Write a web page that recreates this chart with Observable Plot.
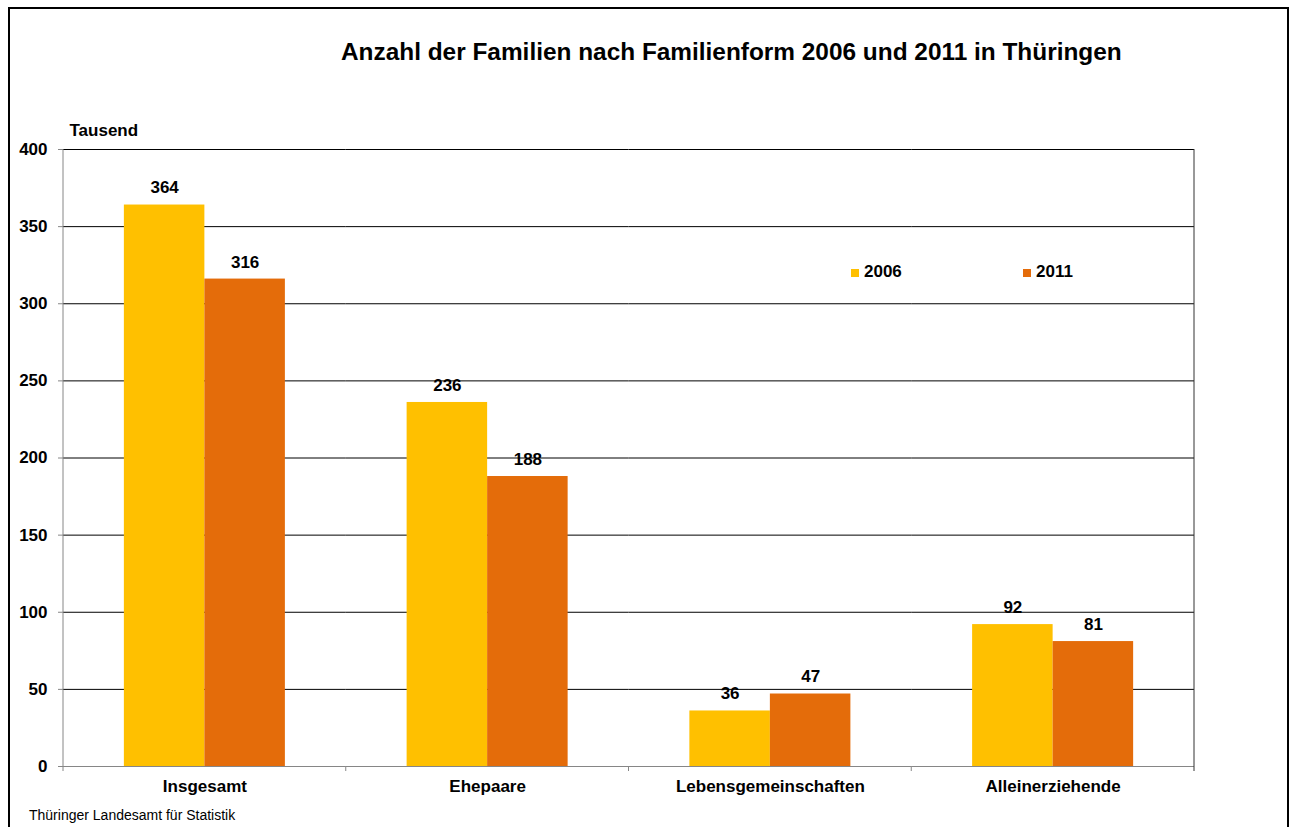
<!DOCTYPE html>
<html><head><meta charset="utf-8">
<script src="https://cdn.jsdelivr.net/npm/d3@7"></script>
<script src="https://cdn.jsdelivr.net/npm/@observablehq/plot@0.6"></script>
<style>
body{margin:0;background:#fff;font-family:"Liberation Sans",Arial,sans-serif;}
#page{position:relative;width:1294px;height:827px;overflow:hidden;background:#fff;}
#frame{position:absolute;left:8px;top:7px;width:1281px;height:860px;border:2px solid #000;box-sizing:border-box;pointer-events:none;}
#title{position:absolute;top:38px;left:341px;font-weight:bold;font-size:24.4px;line-height:28px;white-space:nowrap;color:#000;}
#chart{position:absolute;top:100px;left:0;}
#legend{position:absolute;top:262px;left:0;width:1294px;height:20px;font-weight:bold;font-size:17px;}
#legend .item{position:absolute;top:0;height:20px;line-height:20px;white-space:nowrap;}
#legend .sw{display:inline-block;width:8px;height:8px;margin-right:5px;vertical-align:0px;}
#footer{position:absolute;top:806px;left:29px;font-size:14px;line-height:18px;color:#000;white-space:nowrap;}
svg [aria-label^="y-axis"] path, svg [aria-label^="y-axis"] line{stroke:#868686;}
</style>
</head><body>
<div id="page">
  <div id="title"></div>
  <div id="chart"></div>
  <div id="legend"></div>
  <div id="footer"></div>
  <div id="frame"></div>
</div>
<script>
const title = "Anzahl der Familien nach Familienform 2006 und 2011 in Thüringen";
const yLabel = "Tausend";
const source = "Thüringer Landesamt für Statistik";
const categories = ["Insgesamt", "Ehepaare", "Lebensgemeinschaften", "Alleinerziehende"];
const years = ["2006", "2011"];
const values2006 = [364, 236, 36, 92];
const values2011 = [316, 188, 47, 81];
const yTicks = [0, 50, 100, 150, 200, 250, 300, 350, 400];
const colors = ["#FFC000", "#E46C0A"];
const legendLeft = [851, 1023];

const data = categories.flatMap((c, i) => [
  {cat: c, year: years[0], value: values2006[i]},
  {cat: c, year: years[1], value: values2011[i]}
]);

document.getElementById("title").textContent = title;
document.getElementById("footer").textContent = source;
const legend = document.getElementById("legend");
years.forEach((yr, i) => {
  const it = document.createElement("div");
  it.className = "item";
  it.style.left = legendLeft[i] + "px";
  it.innerHTML = `<span class="sw" style="background:${colors[i]}"></span>${yr}`;
  legend.appendChild(it);
});

const plot = Plot.plot({
  width: 1294, height: 700,
  marginLeft: 63, marginRight: 100, marginTop: 49, marginBottom: 34,
  style: {fontFamily: '"Liberation Sans", Arial, sans-serif', fontSize: "17px", fontWeight: "bold", color: "#000", background: "transparent", overflow: "visible"},
  fx: {domain: categories, padding: 0, round: false, label: null, axis: "bottom", tickSize: 0, tickPadding: 13},
  x: {domain: years, axis: null, round: false, paddingInner: 0, paddingOuter: 0.756},
  y: {domain: [0, 400], ticks: yTicks, tickSize: 5, tickPadding: 11, label: null},
  color: {domain: years, range: colors},
  marks: [
    Plot.ruleY(yTicks.filter(d => d > 0), {stroke: "#000", strokeWidth: 1}),
    Plot.barY(data, {fx: "cat", x: "year", y: "value", fill: "year"}),
    Plot.text(data, {fx: "cat", x: "year", y: "value", text: d => String(d.value), dy: -17, fill: "#000"}),
    Plot.ruleY([0], {stroke: "#868686"}),
    Plot.text([yLabel], {fx: () => categories[0], frameAnchor: "top-left", textAnchor: "start", dx: 6, dy: -26, fill: "#000"})
  ]
});
document.getElementById("chart").appendChild(plot);

// frame lines & category boundary ticks via the plot's scales
const fx = plot.scale("fx"), y = plot.scale("y");
const svg = d3.select(plot);
const y0 = y.apply(0), yTop = y.apply(400);
const lefts = categories.map(c => fx.apply(c));
const xStart = lefts[0], xEnd = lefts[lefts.length - 1] + fx.bandwidth;
const g = svg.append("g");
g.append("line").attr("x1", xStart).attr("x2", xStart).attr("y1", yTop).attr("y2", y0 + 5).attr("stroke", "#868686");
g.append("line").attr("x1", xEnd).attr("x2", xEnd).attr("y1", yTop).attr("y2", y0 + 5).attr("stroke", "#333");
lefts.slice(1).forEach(x => g.append("line").attr("x1", x).attr("x2", x).attr("y1", y0).attr("y2", y0 + 5).attr("stroke", "#868686"));
</script>
</body></html>
